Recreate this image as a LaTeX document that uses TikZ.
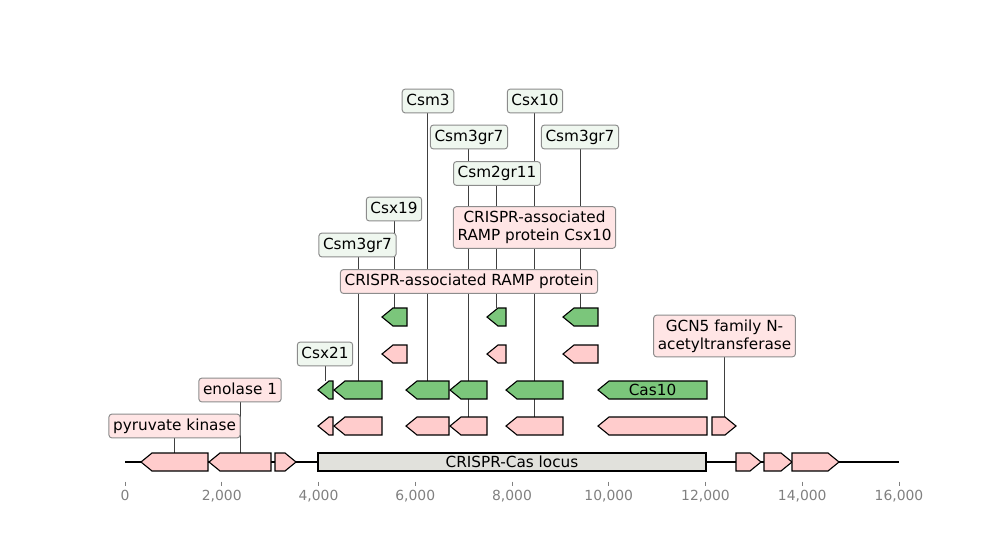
\documentclass[tikz,border=0pt]{standalone}
\usepackage{fontspec}
\setmainfont{DejaVu Sans}
\pgfdeclarelayer{bg}
\pgfsetlayers{bg,main}
\definecolor{genepink}{HTML}{FFCCCC}
\definecolor{genegreen}{HTML}{7BC67B}
\definecolor{locusgray}{HTML}{E1E1DC}
\definecolor{boxpink}{HTML}{FFE5E5}
\definecolor{boxgreen}{HTML}{EFF7EF}
\definecolor{tickgray}{HTML}{808080}

\tikzset{
  gene/.style={draw=black, line width=0.8pt, line join=miter},
  lbl/.style={draw=gray!90, line width=0.7pt, rounded corners=2.2pt,
    inner xsep=3pt, inner ysep=3.1pt, font=\fontsize{11}{13.2}\selectfont, align=center},
  onelbl/.style={lbl, text height=8.4pt, text depth=2.6pt},
  pinklbl/.style={onelbl, fill=boxpink},
  greenlbl/.style={onelbl, fill=boxgreen},
  stem/.style={draw=black!75, line width=0.5pt},
}

% left / right pointing gene: start, end, row, colour, name
\newcommand{\geneL}[5]{%
  \draw[gene, fill=#4] (#1,#3) -- ({#1+11},{#3-9}) -- (#2,{#3-9}) -- (#2,{#3+9}) -- ({#1+11},{#3+9}) -- cycle;
  \coordinate (#5) at ({(#1+#2)/2},{#3-9});}
\newcommand{\geneR}[5]{%
  \draw[gene, fill=#4] (#1,{#3-9}) -- ({#2-11},{#3-9}) -- (#2,#3) -- ({#2-11},{#3+9}) -- (#1,{#3+9}) -- cycle;
  \coordinate (#5) at ({(#1+#2)/2},{#3-9});}

\begin{document}
\begin{tikzpicture}[x=0.72pt, y=-0.72pt]
  \useasboundingbox (0,0) rectangle (1000,540);

  % sequence line and axis
  \coordinate (seqstart) at (125,462);
  \coordinate (seqend) at (899,462);
  \begin{pgfonlayer}{bg}
    \draw[line width=1.4pt] (seqstart) -- (seqend);
  \end{pgfonlayer}
  \foreach \i/\t in {0/0,1/{2,000},2/{4,000},3/{6,000},4/{8,000},5/{10,000},6/{12,000},7/{14,000},8/{16,000}} {
    \draw[tickgray, line width=0.6pt] ({125+96.75*\i},481.5) -- ({125+96.75*\i},485.5);
    \node[text=tickgray, font=\fontsize{10}{12}\selectfont, text height=7.3pt, text depth=0pt, inner sep=0pt] (tick\i) at ({125+96.75*\i},495) {\t};
  }

  % main sequence
  \geneL{141}{208}{462}{genepink}{pk}
  \geneL{209}{271}{462}{genepink}{eno}
  \geneR{275}{296}{462}{genepink}{g3}
  \node[gene, fill=locusgray, minimum width=279.4pt, minimum height=12.96pt, inner sep=0pt,
    font=\fontsize{11}{13.2}\selectfont] (locus) at (512,462) {CRISPR-Cas locus};
  \geneR{736}{761}{462}{genepink}{g5}
  \geneR{764}{792}{462}{genepink}{g6}
  \geneR{792}{839}{462}{genepink}{g7}

  % annotation rows
  \foreach \a/\b/\n in {318/333/p1, 334/382/p2, 406/449/p3, 450/487/ramp, 506/563/rampx, 598/707/p6}
    \geneL{\a}{\b}{426}{genepink}{\n};
  \geneR{712}{736}{426}{genepink}{gcn}
  \foreach \a/\b/\n in {318/333/csx21, 334/382/csm3grA, 406/449/csm3, 450/487/csm3grB, 506/563/csx10, 598/707/cas10}
    \geneL{\a}{\b}{390}{genegreen}{\n};
  \node[font=\fontsize{11}{13.2}\selectfont, inner sep=0pt] (cas10txt) at (652.5,390) {Cas10};
  \foreach \a/\b/\n in {382/407/q1, 487/506/q2, 563/598/q3}
    \geneL{\a}{\b}{354}{genepink}{\n};
  \foreach \a/\b/\n in {382/407/csx19, 487/506/csm2gr, 563/598/csm3grC}
    \geneL{\a}{\b}{317}{genegreen}{\n};

  % labels
  \node[greenlbl] (csm3L) at (428,101) {Csm3};
  \node[greenlbl] (csx10L) at (535,101) {Csx10};
  \node[greenlbl] (csm3grBL) at (469,137) {Csm3gr7};
  \node[greenlbl] (csm3grCL) at (580,137) {Csm3gr7};
  \node[greenlbl] (csm2grL) at (497,173.5) {Csm2gr11};
  \node[greenlbl] (csx19L) at (394,209) {Csx19};
  \node[lbl, fill=boxpink] (rampxL) at (534.5,227.5) {CRISPR-associated\\RAMP protein Csx10};
  \node[greenlbl] (csm3grAL) at (357.5,245) {Csm3gr7};
  \node[pinklbl] (rampL) at (469,281.5) {CRISPR-associated RAMP protein};
  \node[lbl, fill=boxpink] (gcnL) at (724.5,336) {GCN5 family N-\\acetyltransferase};
  \node[greenlbl] (csx21L) at (325,354) {Csx21};
  \node[pinklbl] (enoL) at (240,390) {enolase 1};
  \node[pinklbl] (pkL) at (174.5,426) {pyruvate kinase};

  \begin{pgfonlayer}{bg}
    \foreach \g in {csm3, csx10, csm3grB, csm3grC, csm2gr, csx19, rampx, csm3grA, ramp, gcn, csx21, eno, pk}
      \draw[stem] (\g |- \g L.south) -- (\g);
  \end{pgfonlayer}
\end{tikzpicture}
\end{document}
